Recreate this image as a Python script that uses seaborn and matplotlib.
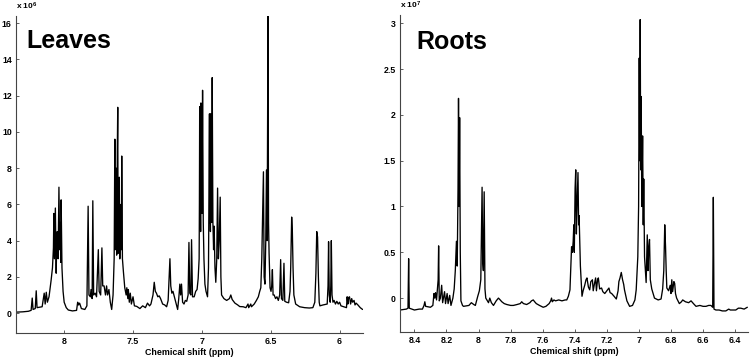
import matplotlib
matplotlib.use("Agg")
import matplotlib.pyplot as plt
import matplotlib.ticker as mticker
import seaborn as sns

# --- DATA: traces, chemical shift (ppm) vs intensity ---
# Leaves, intensity in units of 1e6
leaves_ppm = [
    8.355, 8.30, 8.26, 8.24, 8.232, 8.226, 8.21, 8.203, 8.197, 8.16,
    8.145, 8.138, 8.13, 8.122, 8.11, 8.095, 8.085, 8.078, 8.075, 8.071,
    8.067, 8.064, 8.058, 8.054, 8.05, 8.044, 8.041, 8.038, 8.033, 8.028,
    8.025, 8.022, 8.016, 8.008, 8.0, 7.985, 7.97, 7.94, 7.91, 7.902,
    7.896, 7.888, 7.875, 7.85, 7.835, 7.826, 7.82, 7.81, 7.805, 7.797,
    7.792, 7.786, 7.775, 7.765, 7.752, 7.746, 7.735, 7.726, 7.72, 7.71,
    7.70, 7.692, 7.685, 7.675, 7.665, 7.655, 7.645, 7.64, 7.637, 7.634,
    7.632, 7.629, 7.627, 7.624, 7.622, 7.619, 7.617, 7.614, 7.611, 7.608,
    7.606, 7.603, 7.600, 7.597, 7.595, 7.591, 7.588, 7.585, 7.582, 7.577,
    7.57, 7.56, 7.55, 7.545, 7.538, 7.534, 7.527, 7.52, 7.512, 7.50,
    7.49, 7.473, 7.45, 7.43, 7.41, 7.395, 7.38, 7.37, 7.355, 7.346,
    7.338, 7.33, 7.32, 7.31, 7.30, 7.285, 7.27, 7.256, 7.245, 7.237,
    7.232, 7.226, 7.218, 7.21, 7.2, 7.19, 7.176, 7.168, 7.16, 7.154,
    7.148, 7.14, 7.13, 7.12, 7.11, 7.1, 7.094, 7.088, 7.08, 7.075,
    7.068, 7.056, 7.045, 7.035, 7.027, 7.02, 7.018, 7.016, 7.014, 7.012,
    7.009, 7.007, 7.005, 7.003, 6.999, 6.995, 6.99, 6.985, 6.978, 6.97,
    6.959, 6.952, 6.948, 6.945, 6.943, 6.941, 6.938, 6.936, 6.934, 6.932,
    6.929, 6.925, 6.92, 6.915, 6.911, 6.905, 6.899, 6.892, 6.886, 6.88,
    6.874, 6.867, 6.862, 6.857, 6.84, 6.82, 6.80, 6.79, 6.78, 6.76,
    6.74, 6.725, 6.70, 6.68, 6.665, 6.66, 6.645, 6.64, 6.62, 6.604,
    6.59, 6.58, 6.572, 6.565, 6.553, 6.548, 6.542, 6.536, 6.531, 6.526,
    6.52, 6.516, 6.512, 6.505, 6.498, 6.493, 6.488, 6.483, 6.475, 6.465,
    6.455, 6.445, 6.435, 6.428, 6.422, 6.412, 6.404, 6.398, 6.385, 6.37,
    6.36, 6.355, 6.348, 6.343, 6.338, 6.332, 6.319, 6.29, 6.254, 6.22,
    6.194, 6.18, 6.172, 6.166, 6.16, 6.154, 6.148, 6.143, 6.12, 6.09,
    6.084, 6.08, 6.075, 6.068, 6.064, 6.06, 6.055, 6.048, 6.04, 6.03,
    6.02, 6.01, 6.0, 5.99, 5.97, 5.95, 5.945, 5.94, 5.935, 5.928,
    5.92, 5.912, 5.905, 5.895, 5.888, 5.88, 5.867, 5.85, 5.833,
]
leaves_int = [
    0.05, 0.07, 0.10, 0.15, 0.83, 0.2, 0.25, 1.23, 0.3, 0.35,
    1.1, 0.5, 1.15, 0.6, 0.9, 1.8, 2.5, 3.6, 5.5, 3.0,
    4.8, 5.8, 2.2, 4.0, 4.5, 3.0, 5.2, 6.95, 3.5, 5.0,
    2.8, 6.25, 2.5, 1.2, 0.6, 0.3, 0.17, 0.12, 0.15, 0.6,
    0.45, 0.55, 0.25, 0.2, 0.4, 5.9, 1.0, 0.9, 1.3, 0.8,
    6.2, 1.0, 1.1, 0.9, 3.5, 1.2, 1.0, 3.6, 1.5, 1.5,
    1.0, 1.5, 1.0, 1.3, 0.6, 0.2, 1.0, 2.2, 3.0, 6.5,
    9.6, 3.5, 4.0, 7.0, 8.0, 3.2, 3.5, 9.0, 11.36, 3.3,
    4.0, 6.8, 7.5, 3.0, 3.0, 5.5, 6.0, 3.5, 8.67, 3.0,
    2.3, 1.4, 1.0, 1.4, 0.8, 1.3, 0.6, 1.1, 0.5, 0.9,
    0.4, 0.37, 0.25, 0.4, 0.3, 0.55, 0.4, 0.5, 1.0, 1.7,
    1.2, 1.1, 0.9, 0.95, 0.8, 0.5, 0.45, 0.35, 0.7, 2.2,
    3.0, 1.5, 1.1, 1.2, 0.9, 0.6, 0.2, 0.8, 1.6, 1.0,
    1.6, 0.6, 0.5, 0.7, 0.65, 1.0, 3.9, 1.1, 1.0, 4.05,
    0.9, 0.9, 1.2, 1.3, 1.9, 3.0, 6.0, 11.4, 5.0, 8.0,
    4.5, 11.6, 6.0, 9.0, 5.5, 12.3, 5.0, 3.0, 1.6, 1.2,
    0.9, 2.5, 7.0, 11.0, 5.0, 8.0, 4.5, 11.0, 6.0, 9.0,
    5.0, 13.0, 5.0, 3.5, 4.8, 2.5, 1.7, 3.0, 6.9, 3.0,
    4.0, 6.4, 2.0, 1.0, 0.8, 0.7, 0.8, 1.0, 0.75, 0.55,
    0.45, 0.36, 0.35, 0.3, 0.5, 0.3, 0.5, 0.35, 0.5, 0.7,
    0.9, 1.2, 1.4, 3.0, 7.8, 2.0, 1.6, 4.0, 7.9, 4.0,
    16.4, 5.0, 3.3, 1.4, 1.2, 1.5, 2.4, 1.0, 1.0, 0.8,
    0.9, 0.7, 1.0, 2.95, 0.8, 0.7, 2.75, 0.65, 0.6, 0.57,
    1.2, 2.5, 5.3, 4.5, 2.5, 1.0, 0.5, 0.35, 0.3, 0.28,
    0.3, 0.6, 2.2, 4.5, 4.2, 2.0, 0.6, 0.4, 0.45, 0.5,
    1.5, 3.94, 1.0, 0.6, 1.5, 4.0, 1.0, 0.6, 0.7, 0.5,
    0.65, 0.5, 0.6, 0.4, 0.35, 0.3, 0.9, 0.5, 0.85, 0.9,
    0.5, 0.8, 0.6, 0.7, 0.45, 0.55, 0.45, 0.3, 0.2,
]

# Roots, intensity in units of 1e7
roots_ppm = [
    8.49, 8.45, 8.44, 8.436, 8.432, 8.40, 8.37, 8.35, 8.34, 8.335,
    8.33, 8.30, 8.285, 8.278, 8.273, 8.268, 8.262, 8.252, 8.249, 8.245,
    8.238, 8.23, 8.224, 8.212, 8.206, 8.196, 8.19, 8.18, 8.172, 8.16,
    8.152, 8.145, 8.138, 8.133, 8.128, 8.125, 8.121, 8.118, 8.114, 8.11,
    8.10, 8.094, 8.06, 8.045, 8.03, 8.02, 8.005, 7.995, 7.986, 7.978,
    7.974, 7.97, 7.965, 7.96, 7.955, 7.945, 7.938, 7.93, 7.92, 7.907,
    7.89, 7.876, 7.865, 7.855, 7.84, 7.824, 7.80, 7.783, 7.76, 7.74,
    7.731, 7.72, 7.70, 7.68, 7.67, 7.659, 7.65, 7.64, 7.62, 7.597,
    7.58, 7.56, 7.55, 7.545, 7.54, 7.53, 7.52, 7.50, 7.48, 7.46,
    7.45, 7.44, 7.43, 7.42, 7.415, 7.41, 7.406, 7.403, 7.398, 7.394,
    7.39, 7.386, 7.38, 7.376, 7.373, 7.365, 7.355, 7.348, 7.338, 7.33,
    7.324, 7.315, 7.307, 7.30, 7.29, 7.285, 7.278, 7.27, 7.265, 7.258,
    7.253, 7.245, 7.233, 7.225, 7.213, 7.20, 7.187, 7.18, 7.17, 7.155,
    7.141, 7.13, 7.125, 7.118, 7.11, 7.102, 7.095, 7.09, 7.075, 7.058,
    7.04, 7.025, 7.017, 7.007, 7.002, 6.998, 6.995, 6.992, 6.989, 6.986,
    6.982, 6.977, 6.973, 6.97, 6.965, 6.955, 6.948, 6.943, 6.939, 6.934,
    6.929, 6.92, 6.903, 6.88, 6.862, 6.852, 6.845, 6.839, 6.834, 6.83,
    6.826, 6.815, 6.805, 6.80, 6.795, 6.79, 6.782, 6.777, 6.772, 6.765,
    6.748, 6.735, 6.727, 6.71, 6.69, 6.675, 6.66, 6.644, 6.62, 6.60,
    6.582, 6.565, 6.551, 6.54, 6.536, 6.532, 6.52, 6.50, 6.48, 6.458,
    6.44, 6.43, 6.41, 6.396, 6.38, 6.365, 6.344, 6.324,
]
roots_int = [
    -0.13, -0.12, -0.11, 0.43, -0.11, -0.13, -0.12, -0.12, -0.08, -0.04,
    -0.09, -0.10, -0.08, 0.05, 0.0, 0.06, -0.02, 0.2, 0.57, -0.03,
    0.0, 0.14, -0.05, 0.07, -0.06, 0.05, -0.06, 0.03, -0.08, 0.0,
    0.1, 0.3, 0.62, 0.35, 1.2, 2.18, 1.0, 1.97, 0.5, -0.03,
    -0.08, -0.09, -0.08, -0.05, -0.07, -0.08, 0.02, 0.08, 0.2, 1.21,
    0.4, 0.3, 1.16, 0.1, 0.0, -0.03, -0.05, 0.0, -0.05, -0.08,
    -0.03, 0.0, -0.02, -0.04, -0.06, -0.07, -0.08, -0.08, -0.07, -0.06,
    -0.04, -0.06, -0.07, -0.05, -0.03, -0.02, -0.04, -0.06, -0.08, -0.10,
    -0.09, -0.06, -0.03, 0.0, -0.04, -0.02, -0.03, -0.02, -0.03, -0.02,
    -0.02, 0.02, 0.09, 0.56, 0.5, 0.62, 0.8, 0.5, 1.2, 1.4,
    0.7, 1.0, 1.37, 0.8, 0.9, 0.35, 0.02, 0.08, 0.14, 0.2,
    0.22, 0.12, 0.09, 0.18, 0.2, 0.08, 0.15, 0.22, 0.08, 0.2,
    0.22, 0.1, 0.11, 0.07, 0.05, 0.08, 0.11, 0.06, 0.05, 0.02,
    -0.01, 0.08, 0.18, 0.22, 0.28, 0.2, 0.15, 0.09, -0.03, -0.09,
    -0.08, -0.02, 0.09, 0.45, 1.0, 2.62, 1.5, 3.04, 1.4, 2.2,
    1.0, 1.77, 0.8, 1.3, 0.45, 0.17, 0.69, 0.3, 0.55, 0.64,
    0.2, 0.1, 0.0, -0.02, -0.01, 0.1, 0.3, 0.8, 0.56, 0.3,
    0.11, 0.08, 0.14, 0.05, 0.2, 0.07, 0.18, 0.16, 0.05, 0.0,
    -0.06, -0.04, -0.02, -0.04, -0.05, -0.03, -0.06, -0.09, -0.08, -0.09,
    -0.09, -0.08, -0.08, -0.10, 1.1, -0.12, -0.13, -0.13, -0.14, -0.14,
    -0.12, -0.13, -0.13, -0.13, -0.11, -0.11, -0.12, -0.10,
]

leaves_xticks = [8, 7.5, 7, 6.5, 6]
leaves_yticks = [0, 2, 4, 6, 8, 10, 12, 14, 16]
roots_xticks = [8.4, 8.2, 8.0, 7.8, 7.6, 7.4, 7.2, 7.0, 6.8, 6.6, 6.4]
roots_yticks = [0, 0.5, 1, 1.5, 2, 2.5, 3]

# --- STYLE ---
sns.set_style("ticks")
plt.rcParams['font.family'] = ['Liberation Sans', 'DejaVu Sans']
plt.rcParams['mathtext.default'] = 'regular'
plt.rcParams['text.color'] = 'black'
plt.rcParams['axes.labelcolor'] = 'black'
AXIS_COLOR = '#444444'

fig = plt.figure(figsize=(7.5, 3.63), dpi=100)
ax_l = fig.add_axes([0.0213, 0.0826, 0.4627, 0.8733])
ax_r = fig.add_axes([0.5333, 0.0854, 0.4640, 0.8733])


def draw_panel(ax, ppm, inten, name, exponent, xticks, yticks, xlim, ylim, name_pos):
    sns.lineplot(x=ppm, y=inten, ax=ax, color='black', linewidth=0.95,
                 sort=False, estimator=None)
    ax.set_xlim(*xlim)
    ax.set_ylim(*ylim)
    ax.set_xticks(xticks)
    ax.set_yticks(yticks)
    fmt = mticker.FormatStrFormatter('%g')
    ax.xaxis.set_major_formatter(fmt)
    ax.yaxis.set_major_formatter(fmt)
    for side in ['top', 'right']:
        ax.spines[side].set_visible(False)
    for side in ['left', 'bottom']:
        ax.spines[side].set_color(AXIS_COLOR)
        ax.spines[side].set_linewidth(0.8)
    ax.tick_params(direction='in', length=2.5, width=0.6, color=AXIS_COLOR,
                   labelcolor='black', labelsize=6.3, pad=3)
    for lbl in ax.get_xticklabels() + ax.get_yticklabels():
        lbl.set_fontweight('bold')
    ax.set_xlabel('Chemical shift (ppm)', fontsize=6.4, fontweight='bold',
                  labelpad=1.5, color='black')
    ax.set_ylabel('')
    ax.text(0.0, 1.012, 'x 10$^{%d}$' % exponent, transform=ax.transAxes,
            fontsize=6, fontweight='bold', ha='left', va='bottom', color='black')
    ax.text(name_pos[0], name_pos[1], name, transform=ax.transAxes,
            fontsize=18, fontweight='bold', ha='left', va='baseline', color='black')


draw_panel(ax_l, leaves_ppm, leaves_int, 'Leaves', 6, leaves_xticks, leaves_yticks,
           (8.35, 5.83), (-1.1, 16.4), (0.029, 0.899))
draw_panel(ax_r, roots_ppm, roots_int, 'Roots', 7, roots_xticks, roots_yticks,
           (8.49, 6.32), (-0.37, 3.09), (0.048, 0.892))

fig.savefig('out.png', dpi=100)
